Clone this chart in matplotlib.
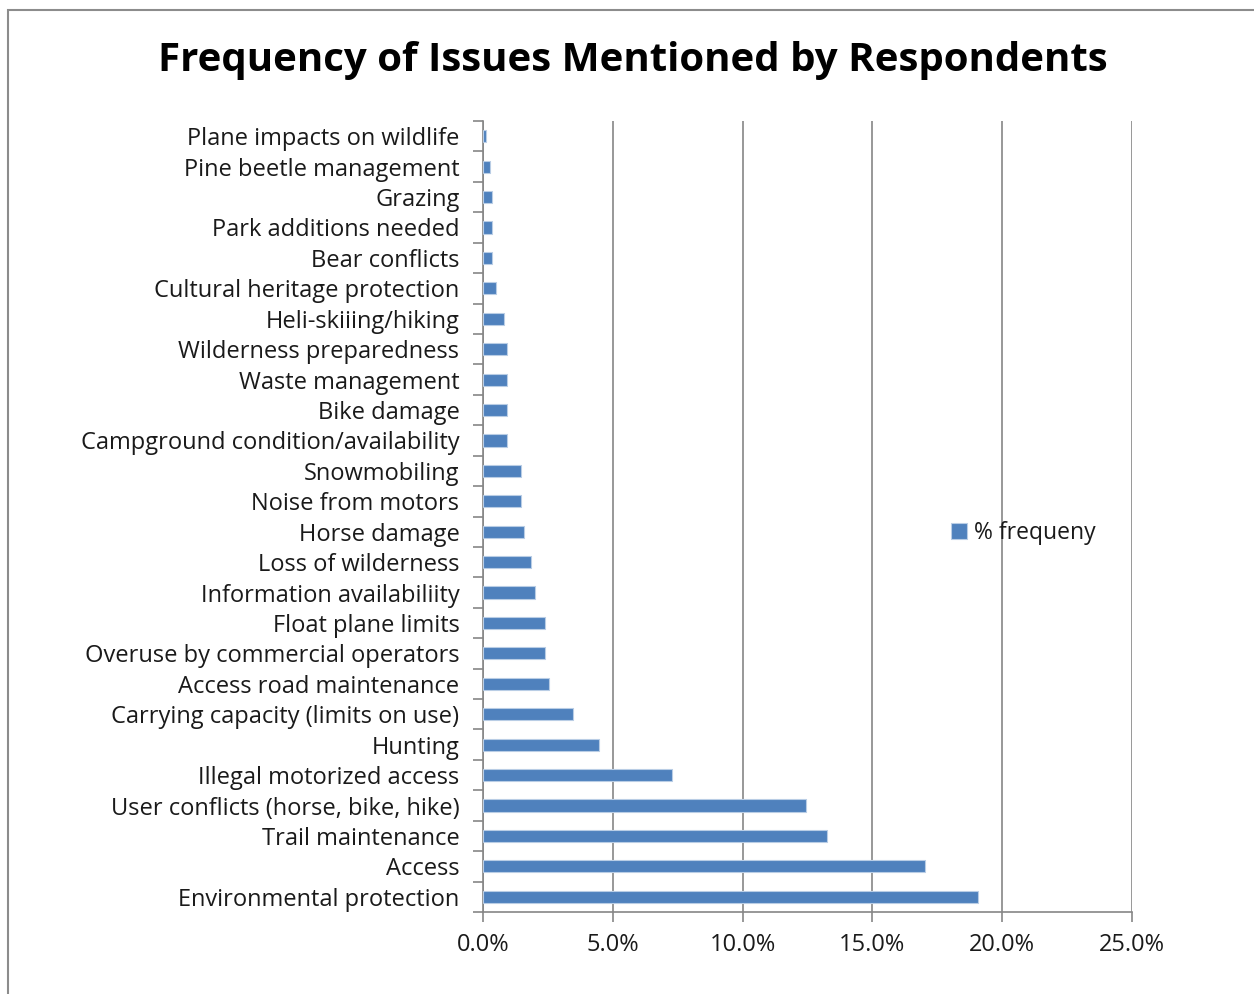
import matplotlib.pyplot as plt
import matplotlib.patches as mpatches
from matplotlib.ticker import FuncFormatter, MultipleLocator

plt.rcParams['font.family'] = ['Open Sans', 'DejaVu Sans']

# Issues, listed bottom to top as drawn on the chart
issues = [
    "Environmental protection", "Access", "Trail maintenance",
    "User conflicts (horse, bike, hike)", "Illegal motorized access", "Hunting",
    "Carrying capacity (limits on use)", "Access road maintenance",
    "Overuse by commercial operators", "Float plane limits",
    "Information availabiliity", "Loss of wilderness", "Horse damage",
    "Noise from motors", "Snowmobiling", "Campground condition/availability",
    "Bike damage", "Waste management", "Wilderness preparedness",
    "Heli-skiiing/hiking", "Cultural heritage protection", "Bear conflicts",
    "Park additions needed", "Grazing", "Pine beetle management",
    "Plane impacts on wildlife",
]
# % frequency of each issue
pct_frequency = [
    19.07, 17.04, 13.25, 12.46, 7.28, 4.46,
    3.47, 2.53, 2.40, 2.40,
    1.99, 1.85, 1.59, 1.45, 1.45, 0.91,
    0.91, 0.91, 0.91, 0.81, 0.51, 0.36,
    0.36, 0.36, 0.27, 0.12,
]

bar_color = "#4F81BD"
grid_color = "#868686"
text_color = "#1a1a1a"

fig = plt.figure(figsize=(12.54, 9.94), dpi=100)
fig.patches.append(mpatches.Rectangle((8 / 1254, -0.1), 1.2, 1.1 - 10 / 994,
                                      transform=fig.transFigure, fill=False,
                                      edgecolor="#8c8c8c", linewidth=1.5))

ax = fig.add_axes([483 / 1254, 1 - 912 / 994, 649 / 1254, 791 / 994])

y = range(len(issues))
ax.barh(y, pct_frequency, height=0.4, color=bar_color, edgecolor="#b9cde5",
        linewidth=0.8, label="% frequeny", zorder=3)

ax.set_xlim(0, 25)
ax.set_ylim(-0.5, len(issues) - 0.5)
ax.xaxis.set_major_locator(MultipleLocator(5))
ax.xaxis.set_major_formatter(FuncFormatter(lambda v, p: f"{v:.1f}%"))
ax.grid(axis="x", color=grid_color, linewidth=1.2, zorder=0)

ax.set_yticks(list(y))
ax.set_yticklabels(issues)
ax.set_yticks([i - 0.5 for i in range(len(issues) + 1)], minor=True)
ax.tick_params(axis="y", which="major", length=0, pad=17, labelsize=17,
               labelcolor=text_color)
ax.tick_params(axis="y", which="minor", length=7, width=1.2, color=grid_color)
ax.tick_params(axis="x", length=7, width=1.2, color=grid_color, pad=8,
               labelsize=17, labelcolor=text_color)

for side in ["top", "right"]:
    ax.spines[side].set_visible(False)
for side in ["left", "bottom"]:
    ax.spines[side].set_color(grid_color)
    ax.spines[side].set_linewidth(1.2)

ax.legend(loc="center left", bbox_to_anchor=(0.69, 0.479), frameon=False,
          fontsize=16.5, handlelength=0.7, handleheight=0.7, handletextpad=0.3,
          labelcolor=text_color)

fig.text(633 / 1254, 1 - 60 / 994, "Frequency of Issues Mentioned by Respondents",
         ha="center", va="center", fontsize=29, fontweight="bold")

fig.savefig("out.png", dpi=100, facecolor="white")
